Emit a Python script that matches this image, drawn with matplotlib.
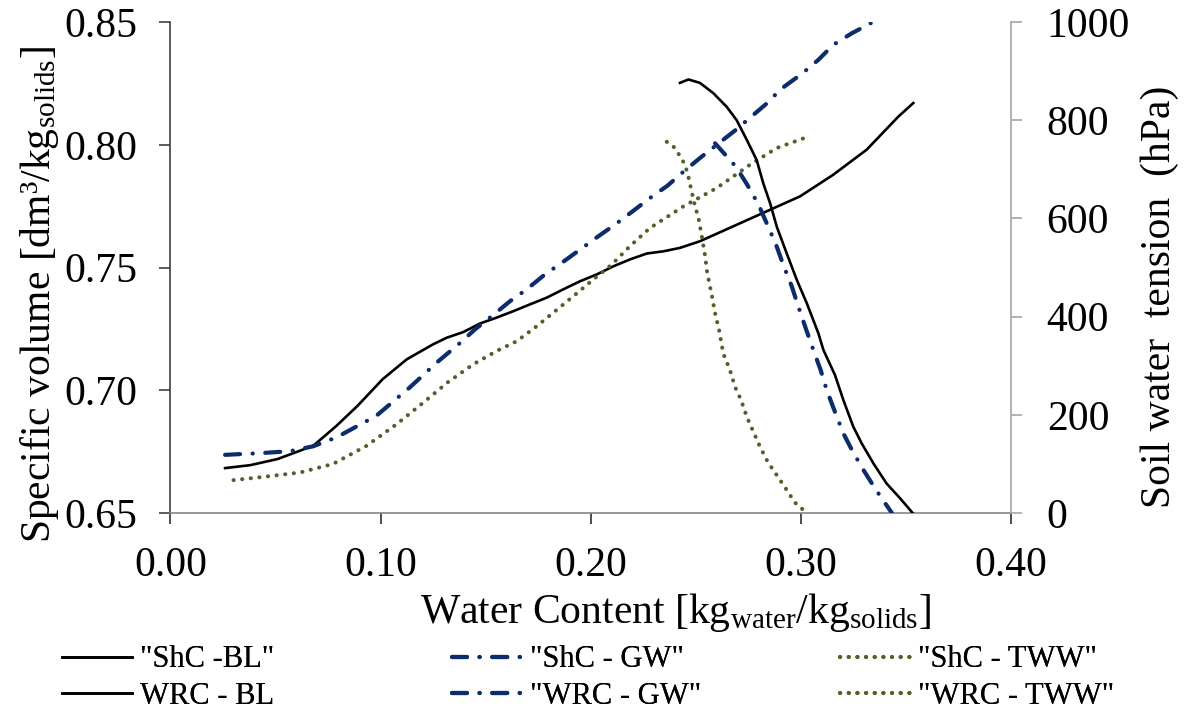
import matplotlib
matplotlib.use('Agg')
import matplotlib.pyplot as plt

plt.rcParams['font.family'] = ['Liberation Serif', 'DejaVu Serif']
plt.rcParams['mathtext.fontset'] = 'custom'
plt.rcParams['mathtext.rm'] = 'Liberation Serif'
plt.rcParams['mathtext.it'] = 'Liberation Serif:italic'

# shrinkage curves: water content [kg/kg] vs specific volume [dm3/kg]
shc_bl_x = [0.026, 0.038, 0.051, 0.068, 0.079, 0.089, 0.101, 0.1125, 0.125, 0.1315,
            0.1394, 0.1474, 0.1553, 0.1632, 0.1712, 0.1791, 0.187, 0.195, 0.203, 0.2109,
            0.2188, 0.2268, 0.2347, 0.2426, 0.2521, 0.268, 0.2839, 0.2998, 0.3156, 0.3315,
            0.3466, 0.3537]
shc_bl_v = [0.6683, 0.6695, 0.672, 0.6774, 0.6855, 0.6936, 0.7045, 0.7126, 0.7187, 0.7214,
            0.7237, 0.7272, 0.7296, 0.7322, 0.735, 0.7377, 0.7411, 0.7444, 0.7472, 0.7505,
            0.7533, 0.7557, 0.7566, 0.758, 0.7607, 0.7668, 0.7729, 0.779, 0.7878, 0.798,
            0.8115, 0.817]

shc_gw_x = [0.026, 0.043, 0.057, 0.068, 0.079, 0.098, 0.114, 0.1268, 0.1371, 0.145,
            0.153, 0.1617, 0.1696, 0.1783, 0.1863, 0.195, 0.203, 0.2117, 0.2196, 0.2283,
            0.2366, 0.2442, 0.2521, 0.2688, 0.2847, 0.2902, 0.3006, 0.3085, 0.3156, 0.3244,
            0.3334]
shc_gw_v = [0.6737, 0.6744, 0.6752, 0.6772, 0.6808, 0.6896, 0.7012, 0.7113, 0.7187, 0.7248,
            0.7302, 0.7363, 0.7411, 0.7472, 0.7519, 0.7573, 0.7623, 0.7675, 0.7726, 0.7783,
            0.7833, 0.789, 0.7946, 0.8058, 0.8174, 0.8224, 0.8289, 0.8346, 0.8407, 0.8454,
            0.8495]

shc_tww_x = [0.030, 0.045, 0.0617, 0.0774, 0.0934, 0.1077, 0.1204, 0.1321, 0.1442, 0.1553,
             0.1649, 0.1744, 0.1831, 0.1918, 0.2013, 0.2101, 0.2188, 0.2283, 0.237, 0.2442,
             0.2601, 0.276, 0.2887, 0.303]
shc_tww_v = [0.6634, 0.6648, 0.6665, 0.670, 0.6774, 0.6862, 0.695, 0.7033, 0.7106, 0.716,
             0.72, 0.7261, 0.7322, 0.7383, 0.7451, 0.7512, 0.7587, 0.7661, 0.7709, 0.7749,
             0.7824, 0.7919, 0.7987, 0.8031]

# water retention curves: water content vs soil water tension [hPa]
wrc_bl_x = [0.2426, 0.2466, 0.2521, 0.2585, 0.2649, 0.2696, 0.2744, 0.2791, 0.2823, 0.2855,
            0.2887, 0.2934, 0.2983, 0.303, 0.3085, 0.3109, 0.3164, 0.3204, 0.3251, 0.3291,
            0.3347, 0.341, 0.3474, 0.3534]
wrc_bl_t = [876, 883, 876, 855, 827, 800, 760, 719, 671, 631,
            583, 529, 474, 427, 366, 332, 281, 230, 176, 142,
            101, 60, 30, 0]

wrc_gw_x = [0.2593, 0.2693, 0.2747, 0.2799, 0.2839, 0.2883, 0.2918, 0.2958, 0.299, 0.3025,
            0.3061, 0.3096, 0.3125, 0.3164, 0.3204, 0.3249, 0.3299, 0.3358, 0.3435]
wrc_gw_t = [753, 705, 668, 629, 590, 547, 505, 462, 420, 376,
            332, 291, 250, 206, 162, 125, 88, 48, 0]

wrc_tww_x = [0.2363, 0.2398, 0.2437, 0.2455, 0.2466, 0.2482, 0.2498, 0.2513, 0.2526, 0.2545,
             0.2556, 0.2577, 0.2593, 0.2612, 0.2632, 0.2664, 0.2688, 0.2717, 0.2744, 0.2775,
             0.2807, 0.2844, 0.2887, 0.2931, 0.2974, 0.303]
wrc_tww_t = [756, 745, 720, 702, 685, 654, 624, 603, 573, 525,
             488, 445, 407, 373, 325, 291, 257, 230, 196, 166,
             135, 104, 77, 49, 21, 0]

x_ticks = [0.0, 0.1, 0.2, 0.3, 0.4]
v_ticks = [0.65, 0.70, 0.75, 0.80, 0.85]
t_ticks = [0, 200, 400, 600, 800, 1000]

black = 'black'
blue = '#0c2c6c'
green = '#4f6228'
dashdot = (0, (3.6, 3.0, 0.05, 3.0))
dots = (0, (0.05, 2.1))

fig = plt.figure(figsize=(11.84, 7.24), dpi=100)
ax = fig.add_axes([0.144, 0.2914, 0.7095, 0.6782])
ax2 = ax.twinx()

l1, = ax.plot(shc_bl_x, shc_bl_v, color=black, lw=1.9)
l2, = ax.plot(shc_gw_x, shc_gw_v, color=blue, lw=3, linestyle=dashdot,
              dash_capstyle='round')
l3, = ax.plot(shc_tww_x, shc_tww_v, color=green, lw=2.9, linestyle=dots,
              dash_capstyle='round')
l4, = ax2.plot(wrc_bl_x, wrc_bl_t, color=black, lw=1.9)
l5, = ax2.plot(wrc_gw_x, wrc_gw_t, color=blue, lw=3, linestyle=dashdot,
               dash_capstyle='round')
l6, = ax2.plot(wrc_tww_x, wrc_tww_t, color=green, lw=2.9, linestyle=dots,
               dash_capstyle='round')

ax.set_xlim(0, 0.4)
ax.set_ylim(0.65, 0.85)
ax2.set_ylim(0, 1000)
ax.set_xticks(x_ticks)
ax.set_xticklabels(['%.2f' % t for t in x_ticks])
ax.set_yticks(v_ticks)
ax.set_yticklabels(['%.2f' % t for t in v_ticks])
ax2.set_yticks(t_ticks)
ax2.set_yticklabels([str(t) for t in t_ticks])

for s in ['top', 'right']:
    ax.spines[s].set_visible(False)
for s in ['top', 'left', 'bottom']:
    ax2.spines[s].set_visible(False)
ax.spines['left'].set_color('#404040')
ax.spines['bottom'].set_color('#868686')
ax2.spines['right'].set_color('#a6a6a6')
for sp in [ax.spines['left'], ax.spines['bottom'], ax2.spines['right']]:
    sp.set_linewidth(1.2)

ax.tick_params(axis='y', direction='out', length=8, width=1.2, color='#404040',
               labelsize=30, pad=16)
ax.tick_params(axis='x', direction='out', length=8, width=1.2, color='#303030',
               labelsize=30, pad=16)
ax2.tick_params(axis='y', direction='out', length=8, width=1.2, color='#a6a6a6',
                labelsize=30, pad=18)

fig.text(675 / 1184, 1 - 612 / 724,
         r'Water Content [kg$_{\mathregular{water}}$/kg$_{\mathregular{solids}}$]',
         ha='center', va='center', fontsize=30)
fig.text(40 / 1184, 1 - 295 / 724,
         r'Specific volume [dm³/kg$_{\mathregular{solids}}$]',
         ha='center', va='center', rotation=90, fontsize=30)
fig.text(1160 / 1184, 1 - 297 / 724, 'Soil water  tension  (hPa)',
         ha='center', va='center', rotation=90, fontsize=30)

# legend laid out as three equal-width columns, like the spreadsheet legend
columns = [([l1, l4], ['"ShC -BL"', 'WRC - BL'], 62),
           ([l2, l5], ['"ShC - GW"', '"WRC - GW"'], 452),
           ([l3, l6], ['"ShC - TWW"', '"WRC - TWW"'], 840)]
for hs, labs, xpix in columns:
    leg = fig.legend(hs, labs, loc='center left',
                     bbox_to_anchor=(xpix / 1184, 0.0635),
                     frameon=False, fontsize=22, handlelength=2.3,
                     handletextpad=0.25, labelspacing=0.25,
                     borderpad=0, borderaxespad=0)
    fig.add_artist(leg)

fig.savefig('out.png', dpi=100)
